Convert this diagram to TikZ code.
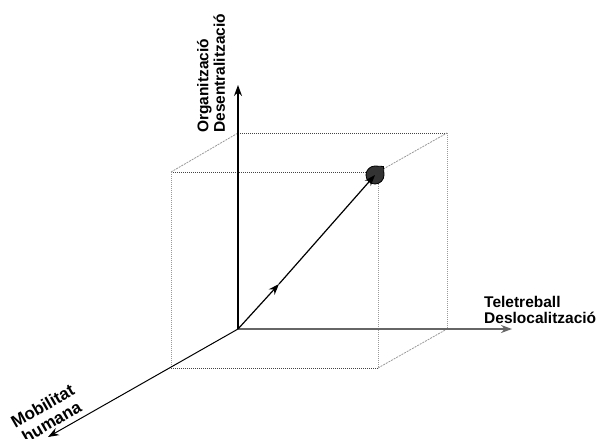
\documentclass[tikz,border=0pt]{standalone}
\usepackage{fontspec}
\setmainfont{Liberation Sans}
\usetikzlibrary{arrows.meta}
\definecolor{axisgray}{HTML}{666666}
\definecolor{boxgray}{HTML}{999999}
\definecolor{dotdark}{HTML}{444444}
\definecolor{ballfill}{HTML}{333333}
\tikzset{
  lab/.style={font=\bfseries\fontsize{15.5}{16.5}\selectfont, inner sep=0pt, align=left},
  zlabstyle/.style={font=\bfseries\fontsize{17}{18}\selectfont, inner sep=0pt, align=center},
  tip/.style={-{Stealth[length=11pt,width=8pt]}},
  blackdot/.style={dotdark, line width=1pt, densely dotted},
  graydot/.style={boxgray, line width=1pt, densely dotted},
  graydiag/.style={boxgray, line width=0.8pt, dash pattern=on 2pt off 1pt},
}
\begin{document}
\begin{tikzpicture}[x=1pt,y=-1pt]
\useasboundingbox (0,0) rectangle (597,439);
% corners
\coordinate (O) at (238,329);
\coordinate (BTL) at (238,133);
\coordinate (BTR) at (447,133);
\coordinate (BBR) at (447,329);
\coordinate (FTL) at (171,172);
\coordinate (FTR) at (378,172);
\coordinate (FBL) at (171,368);
\coordinate (FBR) at (378,368);
\coordinate (Yend) at (238,85);
\coordinate (Xend) at (512,329);
\coordinate (Zend) at (48,437);
\coordinate (M) at (279,284);
% box
\draw[blackdot] (BTL) -- (BTR);
\draw[graydot] (BTR) -- (BBR);
\draw[blackdot] (FTL) -- (FTR);
\draw[blackdot] (FBL) -- (FBR);
\draw[graydot] (FTL) -- (FBL);
\draw[graydot] (FTR) -- (FBR);
\draw[graydiag] (FTL) -- (BTL);
\draw[graydiag] (FTR) -- (BTR);
\draw[graydiag] (FBR) -- (BBR);
% axes
\draw[axisgray, line width=2pt, tip] (O) -- (Xend);
\draw[black, line width=1.2pt, tip] (O) -- (Yend);
\draw[black, line width=1pt, tip] (O) -- (Zend);
% point
\filldraw[fill=ballfill, draw=black, line width=0.8pt] (384,175) arc[start angle=0, end angle=270, radius=9] -- (383.5,166.5) -- cycle;
\node[circle, minimum size=18pt, inner sep=0pt] (P) at (375,175) {};
% vector
\draw[black, line width=1.2pt, tip] (O) -- (M);
\draw[black, line width=1.2pt, tip] (M) -- (P.center);
% labels
\node[lab, rotate=90, anchor=west] (ylab) at (211,133) {Organització\\Desentralització};
\node[lab, anchor=north west] (xlab) at (484,296) {Teletreball\\Deslocalització};
\node[zlabstyle, rotate=30] (zlab) at (47,414) {Mobilitat\\humana};
\end{tikzpicture}
\end{document}
